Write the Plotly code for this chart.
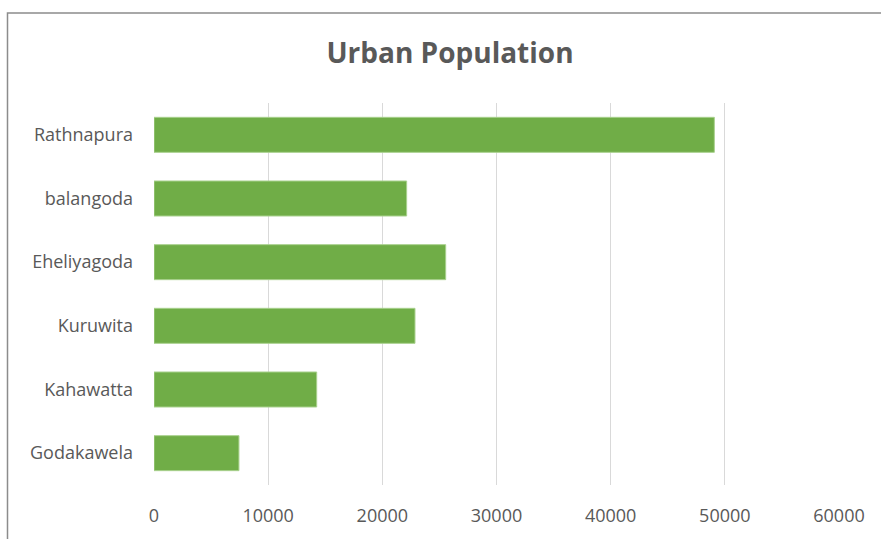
import plotly.graph_objects as go

categories = ["Rathnapura", "balangoda", "Eheliyagoda", "Kuruwita", "Kahawatta", "Godakawela"]
values = [49080, 22130, 25550, 22860, 14250, 7440]
x_ticks = [0, 10000, 20000, 30000, 40000, 50000, 60000]

W, H = 881, 539
L, R, T, B = 154, 42, 103, 52
pw, ph = W - L - R, H - T - B

def px_x(p):
    return (p - L) / pw

def px_y(p):
    return (H - B - p) / ph

fig = go.Figure(go.Bar(
    x=values,
    y=categories,
    orientation="h",
    marker=dict(color="#70AD47", line=dict(color="#A9D18E", width=1)),
))

fig.update_layout(
    width=W, height=H,
    margin=dict(l=L, r=R, t=T, b=B),
    paper_bgcolor="white", plot_bgcolor="white",
    bargap=0.45,
    showlegend=False,
    title=dict(text="<b>Urban Population</b>", x=(450) / W, xanchor="center",
               y=(H - 53) / H, yanchor="middle", yref="container", xref="container",
               font=dict(family="Open Sans", size=28, color="#595959")),
    font=dict(family="Open Sans", color="#595959"),
    shapes=[dict(type="rect", xref="paper", yref="paper",
                 x0=px_x(7.5), x1=px_x(884), y0=px_y(545), y1=px_y(12.5),
                 line=dict(color="#8C8C8C", width=1.5), layer="below")],
)

fig.update_xaxes(range=[0, 60000], tickvals=x_ticks, ticktext=[str(v) for v in x_ticks],
                 showgrid=True, gridcolor="#D9D9D9", gridwidth=1, zeroline=False,
                 showline=False, ticks="", tickfont=dict(size=18, color="#595959"),
                 ticklabelstandoff=18)
fig.update_yaxes(categoryorder="array", categoryarray=categories[::-1],
                 showgrid=False, showline=False, ticks="", zeroline=False,
                 tickfont=dict(size=18, color="#595959"), ticklabelstandoff=20)

fig.write_html("out.html")
